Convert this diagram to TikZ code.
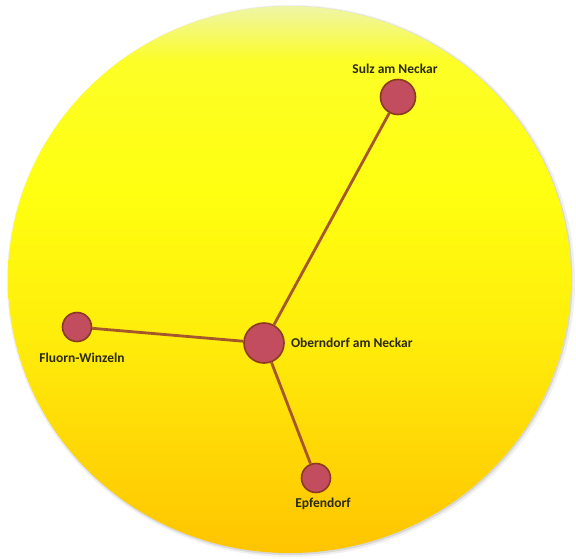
\documentclass[tikz,border=0pt]{standalone}
\usepackage{fontspec}
\setmainfont{Carlito}
\usetikzlibrary{positioning}
\definecolor{townfill}{HTML}{C24D5E}
\definecolor{townedge}{HTML}{8A3A1E}
\definecolor{roadcol}{HTML}{A5562C}
\definecolor{lbltext}{HTML}{2B2A12}
\definecolor{globetop}{HTML}{EFF5A8}
\definecolor{globemid}{HTML}{FFFF10}
\definecolor{globebot}{HTML}{FFC400}
\pgfdeclareverticalshading{globe}{100bp}{color(0bp)=(globebot); color(25bp)=(globebot);
  color(45bp)=(globemid!70!globebot); color(58bp)=(globemid); color(70bp)=(globemid!85!globetop);
  color(75bp)=(globetop); color(100bp)=(globetop)}
\begin{document}
\begin{tikzpicture}[x=1pt,y=-1pt,
  town/.style={circle,draw=townedge,line width=1.6pt,fill=townfill,inner sep=0pt},
  road/.style={draw=roadcol,line width=2.8pt},
  lbl/.style={font=\bfseries\fontsize{13.5}{15}\selectfont,text=lbltext,inner sep=1pt}]
  \useasboundingbox (0,0) rectangle (576,558);
  % globe with soft shadow
  \fill[black,opacity=.06] (291,281) ellipse [x radius=284, y radius=276];
  \fill[black,opacity=.10] (290.5,280.5) ellipse [x radius=282, y radius=274.5];
  \shade[shading=globe] (289.5,279.5) ellipse [x radius=281.5, y radius=273.5];
  % towns
  \node[town,minimum size=40pt] (obern) at (264,343) {};
  \node[town,minimum size=35pt] (sulz) at (398,97) {};
  \node[town,minimum size=29pt] (fluorn) at (77,327) {};
  \node[town,minimum size=29pt] (epf) at (316,478) {};
  \node[lbl,right=5pt of obern] (obernlbl) {Oberndorf am Neckar};
  \node[lbl,above=4pt of sulz,xshift=-3pt] (sulzlbl) {Sulz am Neckar};
  \node[lbl,below=10pt of fluorn,xshift=5pt] (fluornlbl) {Fluorn-Winzeln};
  \node[lbl,below=4pt of epf,xshift=7pt] (epflbl) {Epfendorf};
  % roads
  \draw[road] (obern)--(sulz);
  \draw[road] (obern)--(fluorn);
  \draw[road] (obern)--(epf);
\end{tikzpicture}
\end{document}
